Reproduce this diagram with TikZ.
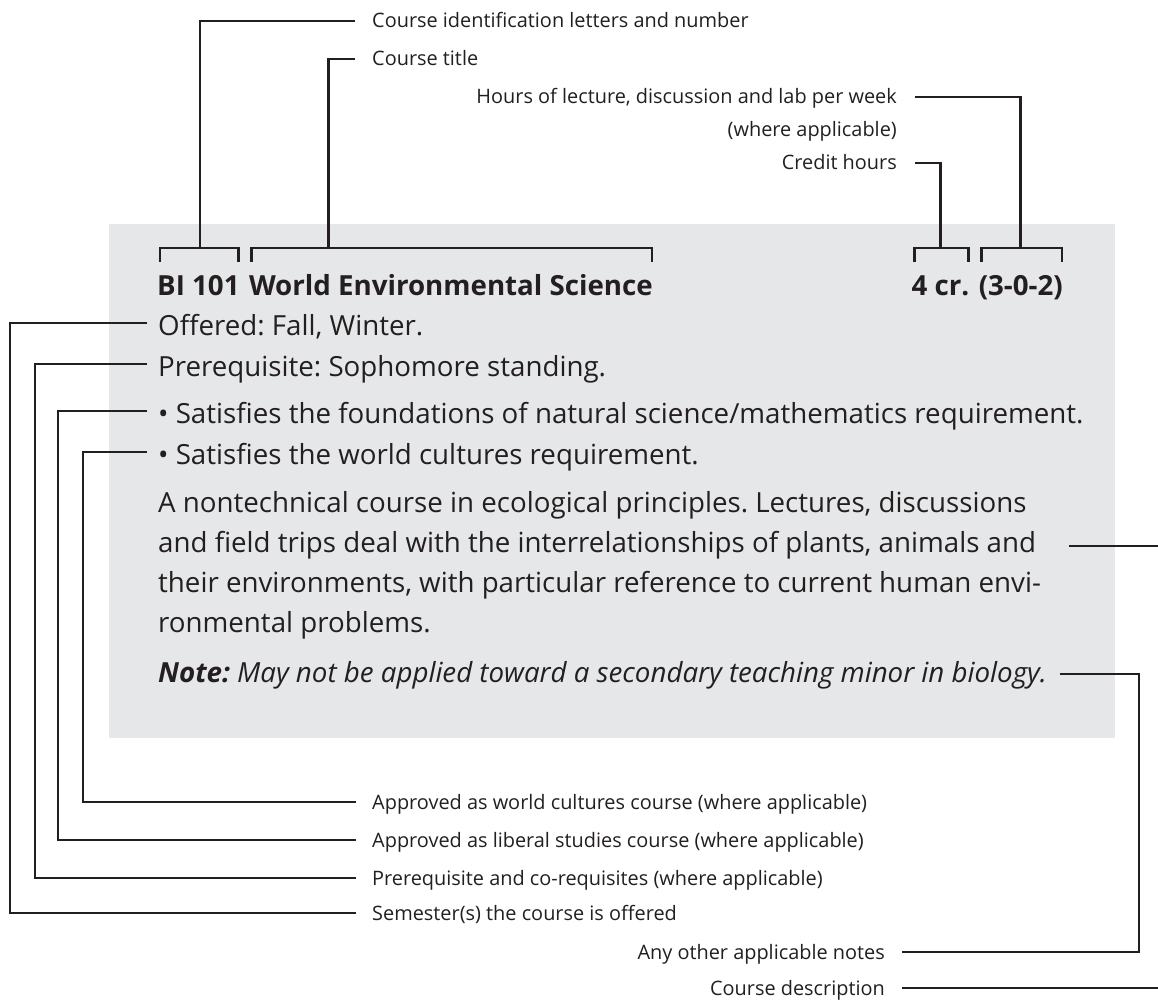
\documentclass[tikz,border=0pt]{standalone}
\usepackage{fontspec}
\setmainfont{Open Sans}
\usetikzlibrary{calc}
\definecolor{ink}{HTML}{231F20}
\definecolor{boxgray}{HTML}{E6E7E8}
\tikzset{
  lbl/.style={font=\frenchspacing\fontsize{19.9}{22}\selectfont, text=ink, inner sep=0pt},
  body/.style={font=\frenchspacing\fontsize{27.7}{32}\selectfont, text=ink, inner sep=0pt},
  bodybf/.style={body, font=\frenchspacing\bfseries\fontsize{27.7}{32}\selectfont},
  lead/.style={draw=ink, line width=2.7pt},
}
\begin{document}
\begin{tikzpicture}[x=1pt,y=-1pt]
\useasboundingbox (0,0) rectangle (1158,1000);
\fill[boxgray] (109,224) rectangle (1115,738);

% top labels
\node[lbl, anchor=base west] (cid) at (372,28) {Course identification letters and number};
\node[lbl, anchor=base west] (ctitle) at (372,66) {Course title};
\node[lbl, anchor=base east] (hours) at (897,104) {Hours of lecture, discussion and lab per week};
\node[lbl, anchor=base east] (hours2) at (897,137) {(where applicable)};
\node[lbl, anchor=base east] (credit) at (897,170) {Credit hours};

% title line
\node[bodybf, anchor=base west] (bi) at (157,295) {BI 101};
\node[bodybf, anchor=base west] (wes) at ($(bi.base east)+(9,0)$) {World Environmental Science};
\node[bodybf, anchor=base east] (hrs) at (1063,295) {(3-0-2)};
\node[bodybf, anchor=base east] (cr) at ($(hrs.base west)+(-9,0)$) {4 cr.};

% body lines
\node[body, anchor=base west] (off) at (158,335) {Offered: Fall, Winter.};
\node[body, anchor=base west] (pre) at (158,376) {Prerequisite: Sophomore standing.};
\node[body, anchor=base west] (sat1) at (158,423) {• Satisfies the foundations of natural science/mathematics requirement.};
\node[body, anchor=base west] (sat2) at (158,464) {• Satisfies the world cultures requirement.};
\node[body, anchor=base west] (d1) at (158,512) {A nontechnical course in ecological principles. Lectures, discussions};
\node[body, anchor=base west] (d2) at (158,552) {and field trips deal with the interrelationships of plants, animals and};
\node[body, anchor=base west] (d3) at (158,592) {their environments, with particular reference to current human envi-};
\node[body, anchor=base west] (d4) at (158,632) {ronmental problems.};
\node[body, anchor=base west] (note) at (158,682) {\textbf{\textit{Note:}} \textit{May not be applied toward a secondary teaching minor in biology.}};

% bottom labels
\node[lbl, anchor=base west] (aworld) at (372,809) {Approved as world cultures course (where applicable)};
\node[lbl, anchor=base west] (alib) at (372,847) {Approved as liberal studies course (where applicable)};
\node[lbl, anchor=base west] (preco) at (372,885) {Prerequisite and co-requisites (where applicable)};
\node[lbl, anchor=base west] (sem) at (372,920) {Semester(s) the course is offered};
\node[lbl, anchor=base east] (anyo) at (885,959) {Any other applicable notes};
\node[lbl, anchor=base east] (cdesc) at (885,995) {Course description};

\coordinate (edge) at (1162,0);

% brackets
\foreach \n in {bi,wes,cr,hrs}{
  \draw[lead] ($(\n.base west)+(3,-33)$) -- ($(\n.base west)+(3,-47)$) -- ($(\n.base east)+(-1,-47)$) -- ($(\n.base east)+(-1,-33)$);
}

% top leaders
\draw[lead] ($(cid.base west)+(-17,-7)$) -| ($(bi.base west)+(43,-47)$);
\draw[lead] ($(ctitle.base west)+(-17,-7)$) -| ($(wes.base west)+(80,-47)$);
\draw[lead] ($(hours.base east)+(18,-7)$) -| ($(hrs.base)+(0,-47)$);
\draw[lead] ($(credit.base east)+(18,-7)$) -| ($(cr.base)+(0,-47)$);

% left leaders
\draw[lead] ($(off.base west)+(-11,-12)$) -- ++(-137,0) |- ($(sem.base west)+(-16,-7)$);
\draw[lead] ($(pre.base west)+(-11,-12)$) -- ++(-112,0) |- ($(preco.base west)+(-16,-7)$);
\draw[lead] ($(sat1.base west)+(-11,-12)$) -- ++(-89,0) |- ($(alib.base west)+(-16,-7)$);
\draw[lead] ($(sat2.base west)+(-11,-12)$) -- ++(-64,0) |- ($(aworld.base west)+(-16,-7)$);

% right leaders
\draw[lead] ($(d2.base east)+(33,-6)$) coordinate (pa) -- (pa -| edge);
\draw[lead] ($(note.base east)+(13,-8)$) -| ($(anyo.base east)+(254,-7)$) -- ($(anyo.base east)+(17,-7)$);
\draw[lead] ($(cdesc.base east)+(17,-7)$) coordinate (pb) -- (pb -| edge);
\end{tikzpicture}
\end{document}
